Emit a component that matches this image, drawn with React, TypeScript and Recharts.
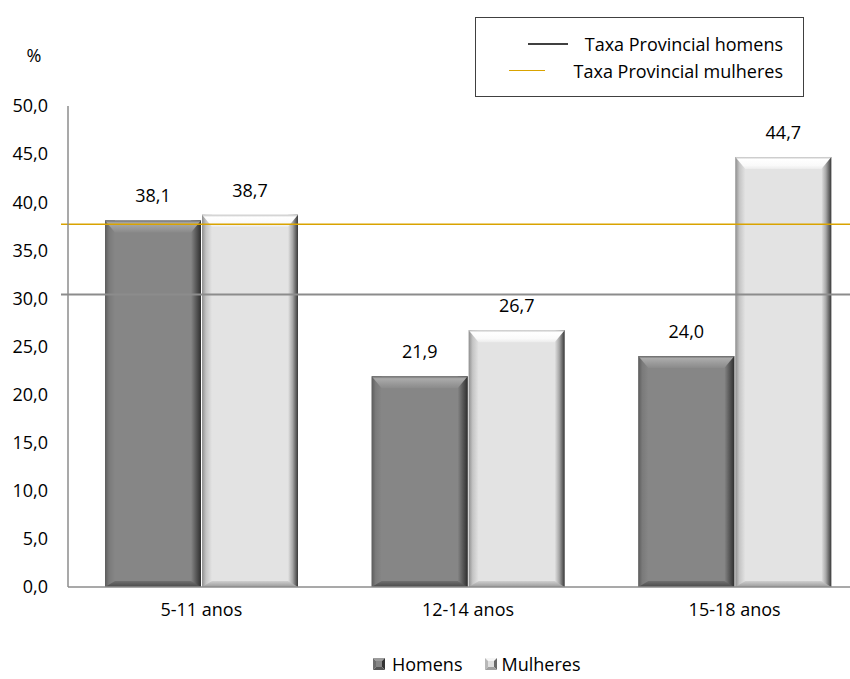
import React from "react";
import { BarChart, Bar, XAxis, YAxis, ReferenceLine, LabelList, Legend } from "recharts";

const categories = ["5-11 anos", "12-14 anos", "15-18 anos"];
const homens = [38.1, 21.9, 24.0];
const mulheres = [38.7, 26.7, 44.7];
const taxaHomens = 30.4;
const taxaMulheres = 37.7;
const yTicks = [0, 5, 10, 15, 20, 25, 30, 35, 40, 45, 50];

const data = categories.map((c, i) => ({ name: c, homens: homens[i], mulheres: mulheres[i] }));

const FONT = "'Open Sans', sans-serif";
const FS = 18;
const fmt = (v: number) => v.toFixed(1).replace(".", ",");

const BevelBar = (kind: "dark" | "light") => (props: any) => {
  const { x, y, width, height } = props;
  if (!height || height <= 0) return null;
  const s = 10;
  const t = Math.min(12, height / 3);
  const base = kind === "dark" ? "#868686" : "#e3e3e3";
  return (
    <g>
      <rect x={x} y={y} width={width} height={height} fill={base} />
      <rect x={x} y={y} width={s} height={height} fill={`url(#${kind}Left)`} />
      <rect x={x + width - s} y={y} width={s} height={height} fill={`url(#${kind}Right)`} />
      <polygon
        points={`${x},${y} ${x + width},${y} ${x + width - s},${y + t} ${x + s},${y + t}`}
        fill={`url(#${kind}Top)`}
      />
      <polygon
        points={`${x},${y + height} ${x + width},${y + height} ${x + width - s},${y + height - 6} ${x + s},${y + height - 6}`}
        fill={`url(#${kind}Bottom)`}
      />
    </g>
  );
};

const RefShape = (props: any) => {
  const { x1, y1, x2, y2, stroke, strokeWidth } = props;
  return <line x1={x1 - 7} y1={y1} x2={x2} y2={y2} stroke={stroke} strokeWidth={strokeWidth} />;
};

const Marker = ({ kind }: { kind: "dark" | "light" }) => {
  const dark = kind === "dark";
  return (
    <svg width={12} height={12} style={{ display: "block" }}>
      <polygon points="0,0 12,0 6,6" fill={dark ? "#9c9c9c" : "#f6f6f6"} />
      <polygon points="0,0 0,12 6,6" fill={dark ? "#6e6e6e" : "#b8b8b8"} />
      <polygon points="12,0 12,12 6,6" fill={dark ? "#333333" : "#6a6a6a"} />
      <polygon points="0,12 12,12 6,6" fill={dark ? "#555555" : "#a0a0a0"} />
      <rect x={3} y={3} width={6} height={6} fill={dark ? "#868686" : "#e0e0e0"} />
    </svg>
  );
};

const BottomLegend = () => (
  <div style={{ display: "flex", alignItems: "center", fontFamily: FONT, fontSize: FS, color: "#000", height: 24, paddingLeft: 373 }}>
    <Marker kind="dark" />
    <span style={{ marginLeft: 7, marginRight: 22 }}>Homens</span>
    <Marker kind="light" />
    <span style={{ marginLeft: 5 }}>Mulheres</span>
  </div>
);

export default function App() {
  return (
    <div style={{ position: "fixed", left: 0, top: 0, width: 850, height: 679, overflow: "hidden", background: "#fff" }}>
      <BarChart
        width={878}
        height={679}
        data={data}
        margin={{ top: 106, right: 10, left: 0, bottom: 3 }}
        barCategoryGap={37}
        barGap={1}
      >
        <defs>
          <linearGradient id="darkLeft" x1="0" y1="0" x2="1" y2="0">
            <stop offset="0%" stopColor="#5c5c5c" />
            <stop offset="40%" stopColor="#7a7a7a" />
            <stop offset="100%" stopColor="#868686" />
          </linearGradient>
          <linearGradient id="darkRight" x1="0" y1="0" x2="1" y2="0">
            <stop offset="0%" stopColor="#868686" />
            <stop offset="50%" stopColor="#5a5a5a" />
            <stop offset="100%" stopColor="#2e2e2e" />
          </linearGradient>
          <linearGradient id="darkTop" x1="0" y1="0" x2="0" y2="1">
            <stop offset="0%" stopColor="#6a6a6a" />
            <stop offset="20%" stopColor="#ababab" />
            <stop offset="60%" stopColor="#9a9a9a" />
            <stop offset="100%" stopColor="#8a8a8a" />
          </linearGradient>
          <linearGradient id="darkBottom" x1="0" y1="0" x2="0" y2="1">
            <stop offset="0%" stopColor="#707070" />
            <stop offset="100%" stopColor="#4a4a4a" />
          </linearGradient>
          <linearGradient id="lightLeft" x1="0" y1="0" x2="1" y2="0">
            <stop offset="0%" stopColor="#8e8e8e" />
            <stop offset="40%" stopColor="#c4c4c4" />
            <stop offset="100%" stopColor="#e3e3e3" />
          </linearGradient>
          <linearGradient id="lightRight" x1="0" y1="0" x2="1" y2="0">
            <stop offset="0%" stopColor="#e3e3e3" />
            <stop offset="45%" stopColor="#a8a8a8" />
            <stop offset="100%" stopColor="#383838" />
          </linearGradient>
          <linearGradient id="lightTop" x1="0" y1="0" x2="0" y2="1">
            <stop offset="0%" stopColor="#c0c0c0" />
            <stop offset="20%" stopColor="#ffffff" />
            <stop offset="70%" stopColor="#fafafa" />
            <stop offset="100%" stopColor="#ececec" />
          </linearGradient>
          <linearGradient id="lightBottom" x1="0" y1="0" x2="0" y2="1">
            <stop offset="0%" stopColor="#cfcfcf" />
            <stop offset="100%" stopColor="#9a9a9a" />
          </linearGradient>
        </defs>
        <XAxis
          dataKey="name"
          height={65}
          axisLine={{ stroke: "#8c8c8c", strokeWidth: 1.5 }}
          tickLine={false}
          tickSize={0}
          tickMargin={16}
          tick={{ fontFamily: FONT, fontSize: FS, fill: "#000" }}
        />
        <YAxis
          width={68}
          domain={[0, 50]}
          ticks={yTicks}
          interval={0}
          tickFormatter={fmt}
          axisLine={{ stroke: "#8c8c8c", strokeWidth: 1.5 }}
          tickLine={false}
          tickSize={0}
          tickMargin={20}
          tick={{ fontFamily: FONT, fontSize: FS, fill: "#000" }}
          label={{ value: "%", position: "top", offset: 44, style: { fontFamily: FONT, fontSize: FS, fill: "#000" } }}
        />
        <Legend verticalAlign="bottom" height={24} wrapperStyle={{ left: 0, width: 850 }} content={() => <BottomLegend />} />
        <Bar dataKey="homens" name="Homens" fill="#868686" isAnimationActive={false} shape={BevelBar("dark")}>
          <LabelList dataKey="homens" position="top" offset={18} formatter={(v: any) => fmt(Number(v))} style={{ fontFamily: FONT, fontSize: FS, fill: "#000" }} />
        </Bar>
        <Bar dataKey="mulheres" name="Mulheres" fill="#e3e3e3" isAnimationActive={false} shape={BevelBar("light")}>
          <LabelList dataKey="mulheres" position="top" offset={18} formatter={(v: any) => fmt(Number(v))} style={{ fontFamily: FONT, fontSize: FS, fill: "#000" }} />
        </Bar>
        <ReferenceLine y={taxaHomens} stroke="#8c8c8c" strokeWidth={2} ifOverflow="visible" shape={RefShape} />
        <ReferenceLine y={taxaMulheres} stroke="#d9a300" strokeWidth={1.5} ifOverflow="visible" shape={RefShape} />
      </BarChart>
      <div
        style={{
          position: "absolute",
          left: 475,
          top: 17,
          width: 329,
          height: 80,
          boxSizing: "border-box",
          border: "1px solid #404040",
          background: "#fff",
          fontFamily: FONT,
          fontSize: FS,
          color: "#000",
          paddingTop: 12,
          paddingRight: 20,
        }}
      >
        <div style={{ display: "flex", justifyContent: "flex-end", alignItems: "center", height: 27 }}>
          <span style={{ display: "inline-block", width: 40, height: 0, borderTop: "2px solid #404040", marginRight: 17 }} />
          Taxa Provincial homens
        </div>
        <div style={{ display: "flex", justifyContent: "flex-end", alignItems: "center", height: 27 }}>
          <span style={{ display: "inline-block", width: 36, height: 0, borderTop: "1.5px solid #d9a300", marginRight: 29 }} />
          Taxa Provincial mulheres
        </div>
      </div>
    </div>
  );
}
